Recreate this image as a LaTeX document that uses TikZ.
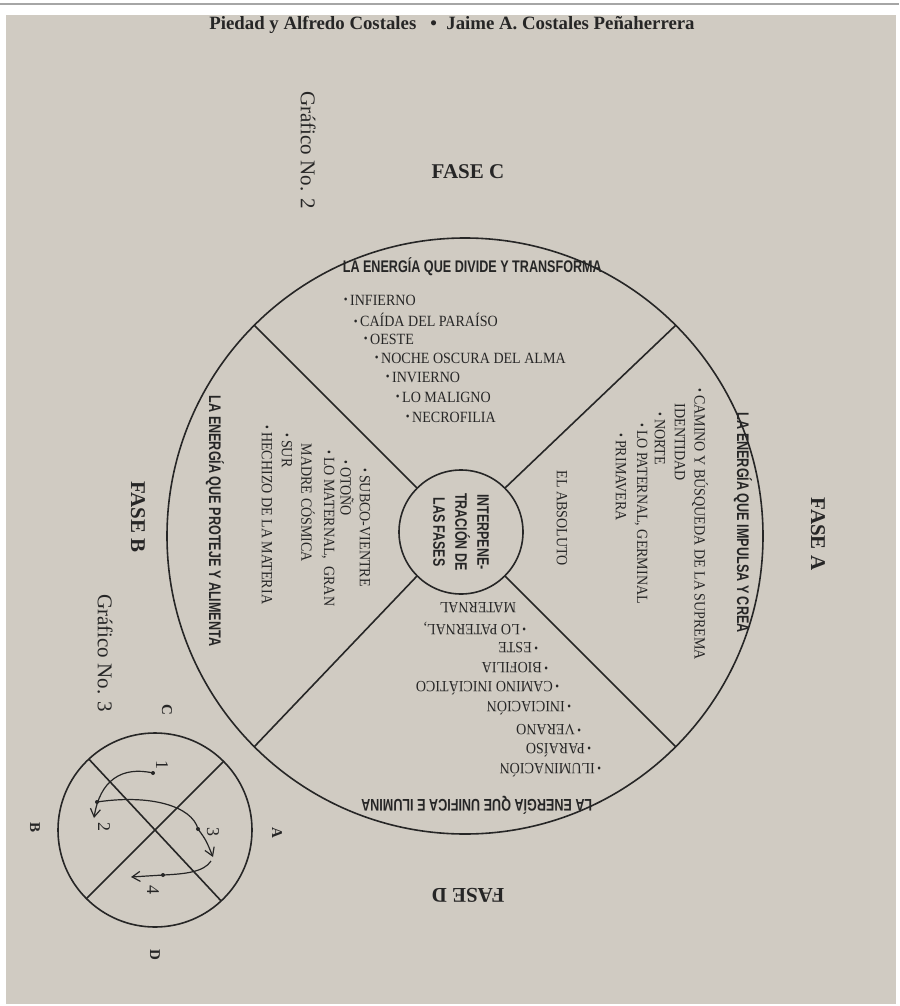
\documentclass[tikz,border=0pt]{standalone}
\usepackage{fontspec}
\setmainfont{Liberation Serif}
\newfontfamily\condsans[FakeStretch=0.75]{Liberation Sans}
\newfontfamily\condserif[FakeStretch=0.9]{Liberation Serif}
\usetikzlibrary{arrows.meta}
\definecolor{ink}{HTML}{262626}
\definecolor{paper}{HTML}{D0CBC2}
\newcommand\bul{\raisebox{0.6pt}{\fontsize{6}{6}\selectfont\textbullet}\,}
\begin{document}
\begin{tikzpicture}[x=0.5pt, y=-0.5pt, line width=0.8pt, color=ink,
    ttl/.style={font=\condsans\bfseries\fontsize{8.4}{9.8}\selectfont, inner sep=0pt},
    lst/.style={font=\condserif\fontsize{7.8}{9}\selectfont, inner sep=0pt, anchor=west},
    fase/.style={font=\bfseries\fontsize{10.5}{12}\selectfont, inner sep=0pt},
    grafcap/.style={font=\fontsize{10.5}{12}\selectfont, inner sep=0pt, rotate=-90},
    corner/.style={font=\bfseries\fontsize{7.5}{9}\selectfont, inner sep=0pt, rotate=-90},
    digit/.style={font=\fontsize{9}{10}\selectfont, inner sep=0pt, rotate=-90},
    ring/.style={circle, draw, inner sep=0pt, outer sep=0pt},
    turnarrow/.style={-{Straight Barb[length=4pt,width=5pt]}, line width=0.6pt}]

        % page
        \useasboundingbox (0,0) rectangle (899,1006);
        \fill[white] (0,0) rectangle (899,1006);
        \draw[black!35, line width=0.6pt] (0,4) -- (899,4);
        \fill[paper] (6,15) rectangle (896,1004);

        \node[font=\bfseries\fontsize{9.4}{11}\selectfont, inner sep=0pt] (head) at (452,25)
            {Piedad y Alfredo Costales \enspace\textbullet\enspace Jaime A. Costales Peñaherrera};

        \node[grafcap] (graf2) at (308,150) {Gráfico No. 2};
        \node[grafcap] (graf3) at (105,653) {Gráfico No. 3};

        \node[fase] (faseC) at (468,172) {FASE C};
        \node[fase, rotate=-90] (faseA) at (818,534) {FASE A};
        \node[fase, rotate=-90] (faseB) at (138,517) {FASE B};
        \node[fase, rotate=180] (faseD) at (468,895) {FASE D};

        % wheel
        \node[ring, minimum size=298pt] (outer) at (465,536) {};
        \node[ring, minimum size=62pt] (inner) at (461,532) {};
        \draw (inner.45) -- (outer.45);
        \draw (inner.135) -- (outer.135);
        \draw (inner.-45) -- (outer.-45);
        \draw (inner.-135) -- (outer.-135);

        \node[font=\condsans\bfseries\fontsize{8.3}{11}\selectfont, inner sep=0pt, align=center, rotate=-90]
            (core) at (inner) {INTERPENE-\\TRACIÓN DE\\LAS FASES};

        % sector C
        \node[ttl, anchor=west] (ttlC) at (342,267) {LA ENERGÍA QUE DIVIDE Y TRANSFORMA};
        \node[lst] (c1) at (343,300) {\bul INFIERNO};
        \node[lst] (c2) at (353,320) {\bul CAÍDA DEL PARAÍSO};
        \node[lst] (c3) at (363,339) {\bul OESTE};
        \node[lst] (c4) at (374,358) {\bul NOCHE OSCURA DEL ALMA};
        \node[lst] (c5) at (385,377) {\bul INVIERNO};
        \node[lst] (c6) at (395,397) {\bul LO MALIGNO};
        \node[lst] (c7) at (405,417) {\bul NECROFILIA};

        % sector A
        \node[ttl, anchor=west, rotate=-90] (ttlA) at (743,412) {LA ENERGÍA QUE IMPULSA Y CREA};
        \node[lst, rotate=-90] (a1) at (700,388) {\bul CAMINO Y BÚSQUEDA DE LA SUPREMA};
        \node[lst, rotate=-90] (a2) at (680,403) {IDENTIDAD};
        \node[lst, rotate=-90] (a3) at (660,412) {\bul NORTE};
        \node[lst, rotate=-90] (a4) at (641,423) {\bul LO PATERNAL, GERMINAL};
        \node[lst, rotate=-90] (a5) at (621,433) {\bul PRIMAVERA};
        \node[lst, rotate=-90] (absol) at (562,470) {EL ABSOLUTO};

        % sector B
        \node[ttl, anchor=west, rotate=-90] (ttlB) at (215,395) {LA ENERGÍA QUE PROTEJE Y ALIMENTA};
        \node[lst, rotate=-90] (b1) at (365,468) {\bul SUBCO-VIENTRE};
        \node[lst, rotate=-90] (b2) at (347,460) {\bul OTOÑO};
        \node[lst, rotate=-90] (b3) at (328,450) {\bul LO MATERNAL, \ GRAN};
        \node[lst, rotate=-90] (b4) at (308,443) {MADRE CÓSMICA};
        \node[lst, rotate=-90] (b5) at (287,433) {\bul SUR};
        \node[lst, rotate=-90] (b6) at (267,425) {\bul HECHIZO DE LA MATERIA};

        % sector D
        \node[ttl, anchor=west, rotate=180] (ttlD) at (593,805) {LA ENERGÍA QUE UNIFICA E ILUMINA};
        \node[lst, rotate=180] (d1) at (602,770) {\bul ILUMINACIÓN};
        \node[lst, rotate=180] (d2) at (592,750) {\bul PARAÍSO};
        \node[lst, rotate=180] (d3) at (582,730) {\bul VERANO};
        \node[lst, rotate=180] (d4) at (572,708) {\bul INICIACIÓN};
        \node[lst, rotate=180] (d5) at (560,688) {\bul CAMINO INICIÁTICO};
        \node[lst, rotate=180] (d6) at (549,668) {\bul BIOFILIA};
        \node[lst, rotate=180] (d7) at (539,648) {\bul ESTE};
        \node[lst, rotate=180] (d8) at (527,628) {\bul LO PATERNAL,};
        \node[lst, rotate=180] (d9) at (517,608) {MATERNAL};

        % small wheel
        \node[ring, minimum size=97pt] (small) at (155,830) {};
        \draw (small.133) -- (small.-47);
        \draw (small.45) -- (small.-135);

        \node[corner] (lC) at (167,710) {C};
        \node[corner] (lA) at (277,833) {A};
        \node[corner] (lB) at (35,827) {B};
        \node[corner] (lD) at (155,955) {D};

        \coordinate (p1) at (153,773);
        \coordinate (p2) at (97,802);
        \coordinate (p3) at (198,829);
        \coordinate (p4) at (163,875);
        \coordinate (e1) at (94,818);
        \coordinate (e2) at (213,857);
        \coordinate (s3) at (211,861);
        \coordinate (e3) at (131,877);

        \draw[turnarrow] (p1) .. controls (122,766) and (100,780) .. (e1);
        \draw[turnarrow] (p2) .. controls (150,794) and (192,806) .. (p3) .. controls (206,840) .. (e2);
        \draw[turnarrow] (s3) .. controls (204,872) and (185,874) .. (p4) -- (e3);
        \fill (p1) circle (2) (p2) circle (2) (p3) circle (2) (p4) circle (2);

        \node[digit] (n1) at (162,765) {1};
        \node[digit] (n2) at (104,827) {2};
        \node[digit] (n3) at (213,832) {3};
        \node[digit] (n4) at (153,890) {4};

    \end{tikzpicture}
\end{document}
